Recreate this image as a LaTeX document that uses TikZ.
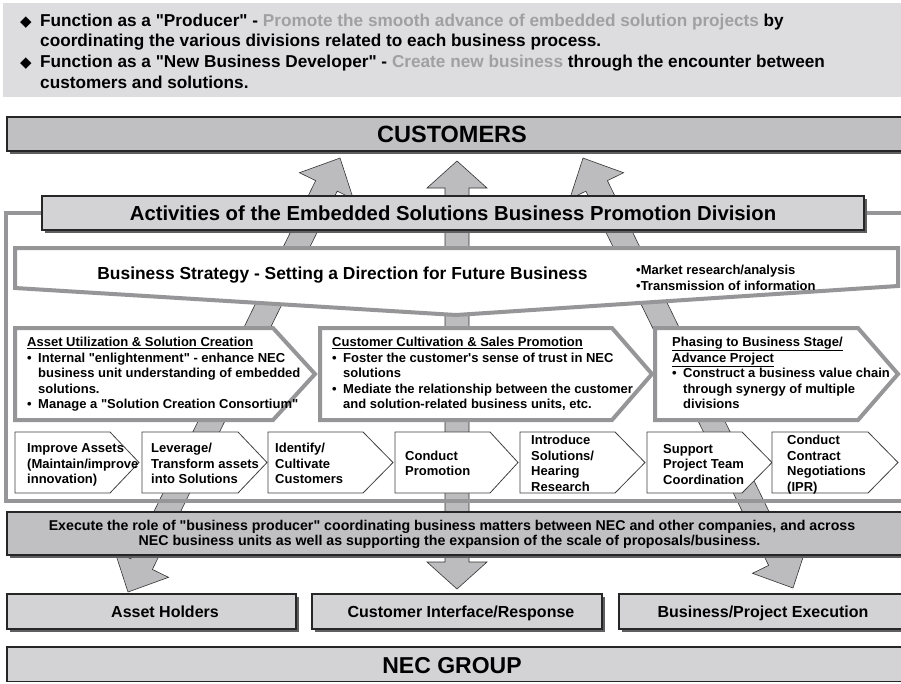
\documentclass[tikz,border=0pt]{standalone}
\usepackage{fontspec}
\setmainfont{Liberation Sans}
\newfontfamily\mf{Liberation Sans}
\newfontfamily\symfont{DejaVu Sans}
\usetikzlibrary{calc}
\definecolor{banner}{RGB}{221,221,223}
\definecolor{frameg}{RGB}{150,150,152}
\definecolor{boxdark}{RGB}{192,192,194}
\definecolor{boxlight}{RGB}{211,211,213}
\definecolor{arrowg}{RGB}{188,188,190}
\definecolor{shadowg}{RGB}{95,95,97}
\definecolor{txtgray}{RGB}{160,160,162}
\newcommand\shbox[5]{%
  \fill[shadowg] ({#1+3},{#2+3}) rectangle ({#3+3},{#4+3});
  \filldraw[fill=#5, draw=black!85, line width=1.3pt] (#1,#2) rectangle (#3,#4);}
\newcommand\bigarrow[6]{%
  \begin{scope}[shift={(#1,#2)}, rotate=#3]
  \filldraw[fill=arrowg, draw=black!80, line width=0.6pt] (0,0) -- (#5,#6) -- (#5,12) -- ({#4-#5},12) -- ({#4-#5},#6) -- (#4,0) -- ({#4-#5},-#6) -- ({#4-#5},-12) -- (#5,-12) -- (#5,-#6) -- cycle;
  \end{scope}}
\newcommand\tlines[5]{\foreach \tl [count=\ii from 0] in {#5}{\node[txt] (#1\ii) at (#2,{#3+#4*\ii}) {\tl};}}
\newcommand\bul{\makebox[11pt][l]{•}}
\newcommand\ind{\hspace*{11pt}}
\begin{document}
\begin{tikzpicture}[x=1pt,y=-1pt,
  txt/.style={font=\mf\bfseries\fontsize{13}{15.5}\selectfont, inner sep=0, anchor=base west},
  toptxt/.style={font=\mf\bfseries\fontsize{17.2}{19}\selectfont, inner sep=0, anchor=base west},
  lbl/.style={font=\mf\bfseries, inner sep=0, anchor=base},
  bigchev/.style={fill=white, draw=frameg, line width=4pt, line join=miter},
  smallchev/.style={fill=white, draw=black!75, line width=0.8pt}]
\path[use as bounding box] (0,0) rectangle (901,683);
\clip (0,0) rectangle (901,683);
\fill[white] (0,0) rectangle (901,683);
% banner
\fill[banner] (3,3) rectangle (905,97);
\node[toptxt, font=\symfont\fontsize{15}{16}\selectfont] (d1) at (20,26) {◆};
\node[toptxt] (b1) at (40,26) {Function as a "Producer" - \textcolor{txtgray}{Promote the smooth advance of embedded solution projects} by};
\node[toptxt] (b2) at (40,46.5) {coordinating the various divisions related to each business process.};
\node[toptxt, font=\symfont\fontsize{15}{16}\selectfont] (d2) at (20,67.5) {◆};
\node[toptxt] (b3) at (40,67.5) {Function as a "New Business Developer" - \textcolor{txtgray}{Create new business} through the encounter between};
\node[toptxt] (b4) at (40,88) {customers and solutions.};
% customers
\shbox{7}{117}{910}{151}{boxdark}
\node[lbl, font=\mf\bfseries\fontsize{23.5}{26}\selectfont] (cust) at (452,142.5) {CUSTOMERS};
% arrows
\bigarrow{128}{592}{63.96}{483}{31}{30}
\bigarrow{457}{589}{90}{428}{27}{30}
\bigarrow{793}{588}{116.03}{478.5}{31}{30}
% frame
\draw[frameg, line width=4pt] (915,213) -- (6,213) -- (6,501) -- (915,501);
% activities
\shbox{42}{196}{864}{230}{boxlight}
\node[lbl, font=\mf\bfseries\fontsize{20.3}{22}\selectfont] (act) at (453,220) {Activities of the Embedded Solutions Business Promotion Division};
% strategy
\filldraw[fill=white, draw=frameg, line width=4pt] (15,248) -- (898,248) -- (898,286) -- (456,315) -- (15,288) -- cycle;
\node[lbl, font=\mf\bfseries\fontsize{17.4}{19}\selectfont] (strat) at (342.5,279) {Business Strategy - Setting a Direction for Future Business};
\tlines{sb}{636}{274.5}{16}{{•Market research/analysis},{•Transmission of information}}
% big chevrons
\path[bigchev] (15,328) -- (273,328) -- (315,374) -- (273,420) -- (15,420) -- cycle;
\path[bigchev] (320,328) -- (612,328) -- (652,374) -- (612,420) -- (320,420) -- cycle;
\path[bigchev] (655,328) -- (858,328) -- (898,374) -- (858,420) -- (655,420) -- cycle;
\tlines{ca}{27}{346.5}{15.5}{{\underline{Asset Utilization \& Solution Creation}},{\bul Internal "enlightenment" - enhance NEC},{\ind business unit understanding of embedded},{\ind solutions.},{\bul Manage a "Solution Creation Consortium"}}
\tlines{cb}{332}{346.5}{15.5}{{\underline{Customer Cultivation \& Sales Promotion}},{\bul Foster the customer's sense of trust in NEC},{\ind solutions},{\bul Mediate the relationship between the customer},{\ind and solution-related business units, etc.}}
\tlines{cc}{672}{346.5}{15.5}{{\underline{Phasing to Business Stage/}},{\underline{Advance Project}},{\bul Construct a business value chain},{\ind through synergy of multiple},{\ind divisions}}
% small chevrons
\path[smallchev] (15,432) -- (110,432) -- (139,462.5) -- (110,493) -- (15,493) -- cycle;
\path[smallchev] (142,432) -- (238,432) -- (267,462.5) -- (238,493) -- (142,493) -- cycle;
\path[smallchev] (268,432) -- (363,432) -- (393,462.5) -- (363,493) -- (268,493) -- cycle;
\path[smallchev] (395,432) -- (490,432) -- (518,462.5) -- (490,493) -- (395,493) -- cycle;
\path[smallchev] (520,432) -- (615,432) -- (645,462.5) -- (615,493) -- (520,493) -- cycle;
\path[smallchev] (647,432) -- (742,432) -- (772,462.5) -- (742,493) -- (647,493) -- cycle;
\path[smallchev] (772,432) -- (868,432) -- (898,462.5) -- (868,493) -- (772,493) -- cycle;
\tlines{sa}{27}{452.5}{15.5}{{Improve Assets},{(Maintain/improve},{innovation)}}
\tlines{sc}{151}{452.5}{15.5}{{Leverage/},{Transform assets},{into Solutions}}
\tlines{sd}{275}{452.5}{15.5}{{Identify/},{Cultivate},{Customers}}
\tlines{se}{405}{460}{15.5}{{Conduct},{Promotion}}
\tlines{sf}{531}{444.5}{15.5}{{Introduce},{Solutions/},{Hearing},{Research}}
\tlines{sg}{663}{453}{15.5}{{Support},{Project Team},{Coordination}}
\tlines{sh}{787}{444.5}{15.5}{{Conduct},{Contract},{Negotiations},{(IPR)}}
% execute
\shbox{7}{512}{910}{555}{boxdark}
\node[lbl, font=\mf\bfseries\fontsize{14.2}{15}\selectfont] (ex1) at (452,530) {Execute the role of "business producer" coordinating business matters between NEC and other companies, and across};
\node[lbl, font=\mf\bfseries\fontsize{14.2}{15}\selectfont] (ex2) at (449.5,545.5) {NEC business units as well as supporting the expansion of the scale of proposals/business.};
% bottom boxes
\shbox{7}{594}{296}{629}{boxlight}
\shbox{312}{594}{602}{629}{boxlight}
\shbox{619}{594}{910}{629}{boxlight}
\node[lbl, font=\mf\bfseries\fontsize{16}{18}\selectfont] (ah) at (165,617) {Asset Holders};
\node[lbl, font=\mf\bfseries\fontsize{16}{18}\selectfont] (ci) at (461,617) {Customer Interface/Response};
\node[lbl, font=\mf\bfseries\fontsize{16}{18}\selectfont] (bp) at (763,617) {Business/Project Execution};
% NEC group
\filldraw[fill=boxlight, draw=black!85, line width=1.3pt] (7,647) rectangle (910,681.5);
\node[lbl, font=\mf\bfseries\fontsize{23}{26}\selectfont] (nec) at (452,673) {NEC GROUP};
\end{tikzpicture}
\end{document}
